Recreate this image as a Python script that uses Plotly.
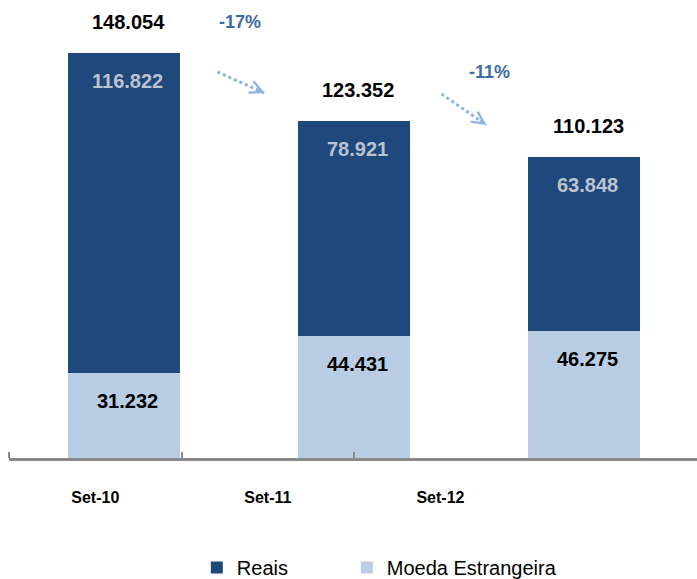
import plotly.graph_objects as go

categories = ["Set-10", "Set-11", "Set-12"]
reais = [116822, 78921, 63848]
moeda = [31232, 44431, 46275]
series_names = ["Reais", "Moeda Estrangeira"]

DARK = "#1f487c"
LIGHT = "#b9cde5"
ARROW = "#8db3e2"
PCT = "#3d6aa6"
FONT = "Liberation Sans, Arial, sans-serif"


def fmt(v):
    return f"{v:,}".replace(",", ".")


xs = list(range(len(categories)))
totals = [r + m for r, m in zip(reais, moeda)]

fig = go.Figure()
fig.add_trace(go.Bar(name=series_names[1], x=xs, y=moeda, width=0.487,
                     marker={"color": LIGHT, "line": {"width": 0}},
                     legend="legend2"))
fig.add_trace(go.Bar(name=series_names[0], x=xs, y=reais, width=0.487,
                     marker={"color": DARK, "line": {"width": 0}},
                     legend="legend"))

annotations = []
for i, x in enumerate(xs):
    annotations.append(dict(x=x, y=totals[i], text=f"<b>{fmt(totals[i])}</b>",
                            showarrow=False, yanchor="middle", yshift=31, xshift=4,
                            font={"size": 20, "color": "black", "family": FONT}))
    annotations.append(dict(x=x, y=totals[i], text=f"<b>{fmt(reais[i])}</b>",
                            showarrow=False, yanchor="middle", yshift=-28, xshift=3,
                            font={"size": 20, "color": "#bcc3cf", "family": FONT}))
    annotations.append(dict(x=x, y=moeda[i], text=f"<b>{fmt(moeda[i])}</b>",
                            showarrow=False, yanchor="middle", yshift=-28, xshift=3,
                            font={"size": 20, "color": "black", "family": FONT}))

# change arrows between consecutive bars
arrows = [
    # x0, y0, x1, y1, label x, label y
    (0.406, 141100, 0.611, 133400, 0.506, 159400),
    (1.380, 133050, 1.575, 121700, 1.588, 141100),
]
shapes = []
for i, (x0, y0, x1, y1, lx, ly) in enumerate(arrows):
    pct = round((totals[i + 1] / totals[i] - 1) * 100)
    shapes.append(dict(type="line", x0=x0, y0=y0, x1=x1, y1=y1, xref="x", yref="y",
                       line={"color": ARROW, "width": 3, "dash": "dot"}))
    dxp = (x1 - x0) * 230.1
    dyp = (y1 - y0) * 0.0027358
    n = (dxp ** 2 + dyp ** 2) ** 0.5
    annotations.append(dict(x=x1, y=y1, ax=-dxp / n * 10, ay=dyp / n * 10, text="",
                            showarrow=True, arrowhead=5, arrowsize=1.5, arrowwidth=1.6,
                            arrowcolor=ARROW))
    annotations.append(dict(x=lx, y=ly, text=f"<b>{pct}%</b>", showarrow=False,
                            font={"size": 18, "color": PCT, "family": FONT}))

legend_style = dict(orientation="h", xanchor="left", y=-0.25, yanchor="middle",
                    font={"size": 20, "color": "black"}, itemclick=False,
                    bgcolor="rgba(0,0,0,0)")

fig.update_layout(
    barmode="stack",
    width=697, height=579,
    margin=dict(l=9, r=0, t=20, b=121, autoexpand=False),
    plot_bgcolor="white", paper_bgcolor="white",
    font={"family": FONT},
    showlegend=True,
    legend=dict(x=0.273, **legend_style),
    legend2=dict(x=0.491, **legend_style),
    xaxis=dict(range=[-0.5, 2.49], showgrid=False, zeroline=False,
               showline=True, linecolor="#8a8a8a", linewidth=2.5,
               tickvals=[x * 0.75 - 0.125 for x in xs],
               ticktext=[f"<b>{c}</b>" for c in categories],
               ticks="", ticklabelstandoff=23,
               tickfont={"size": 16, "color": "black", "family": FONT},
               minor=dict(tickvals=[x * 0.75 - 0.5 for x in xs], ticks="inside",
                          ticklen=6, tickwidth=2, tickcolor="#8a8a8a", showgrid=False)),
    yaxis=dict(range=[0, 160100], visible=False),
    annotations=annotations,
    shapes=shapes,
)

fig.write_html("out.html", config={"displayModeBar": False},
               post_script="document.body.style.margin='0';")
